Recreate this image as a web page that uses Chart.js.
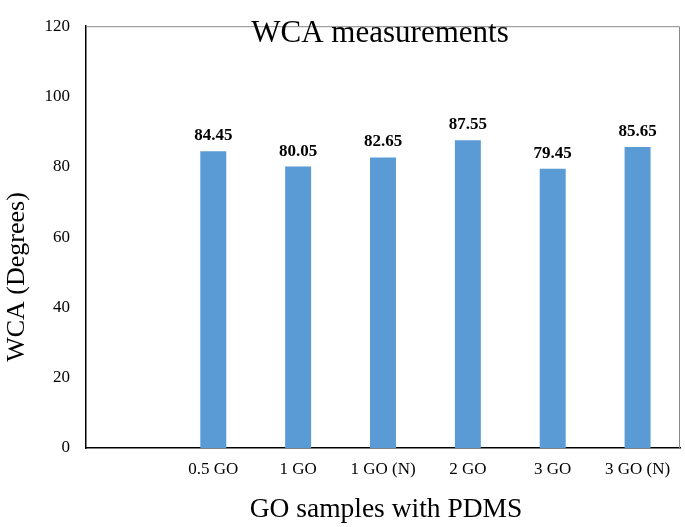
<!DOCTYPE html>
<html>
<head>
<meta charset="utf-8">
<script src="https://cdn.jsdelivr.net/npm/chart.js@4"></script>
<style>
html,body{margin:0;padding:0;background:#fff;}
#wrap{width:685px;height:527px;}
</style>
</head>
<body>
<div id="wrap"><canvas id="c" width="685" height="527"></canvas></div>
<script>
const categories = ["", "0.5 GO", "1 GO", "1 GO (N)", "2 GO", "3 GO", "3 GO (N)"];
const wcaValues = [null, 84.45, 80.05, 82.65, 87.55, 79.45, 85.65];
const yTicks = [0, 20, 40, 60, 80, 100, 120];
const chartTitle = "WCA measurements";
const xTitle = "GO samples with PDMS";
const yTitle = "WCA (Degrees)";

const SERIF = "'Liberation Serif', 'Times New Roman', serif";

const decor = {
  id: 'decor',
  beforeDatasetsDraw(chart) {
    const {ctx, chartArea: a} = chart;
    ctx.save();
    ctx.strokeStyle = '#8a8a8a';
    ctx.lineWidth = 1;
    ctx.beginPath();
    ctx.moveTo(a.left, a.top + 0.5);
    ctx.lineTo(a.right - 0.5, a.top + 0.5);
    ctx.lineTo(a.right - 0.5, a.bottom);
    ctx.stroke();
    ctx.restore();
  },
  afterDatasetsDraw(chart) {
    const {ctx, chartArea: a} = chart;
    ctx.save();
    const meta = chart.getDatasetMeta(0);
    ctx.font = "bold 17px " + SERIF;
    ctx.fillStyle = '#000';
    ctx.textAlign = 'center';
    ctx.textBaseline = 'alphabetic';
    meta.data.forEach((bar, i) => {
      const v = wcaValues[i];
      if (v == null) return;
      ctx.fillText(v.toFixed(2), bar.x, bar.y - 11);
    });
    ctx.font = "31px " + SERIF;
    ctx.fillText(chartTitle, 380, 42);
    ctx.font = "27.5px " + SERIF;
    ctx.fillText(xTitle, 386, 517);
    ctx.font = "26px " + SERIF;
    ctx.translate(24, 277);
    ctx.rotate(-Math.PI / 2);
    ctx.fillText(yTitle, 0, 0);
    ctx.restore();
  }
};

new Chart(document.getElementById('c'), {
  type: 'bar',
  data: {
    labels: categories,
    datasets: [{
      data: wcaValues,
      backgroundColor: '#5B9BD5',
      borderWidth: 0,
      categoryPercentage: 1,
      barPercentage: 0.306
    }]
  },
  options: {
    responsive: false,
    animation: false,
    devicePixelRatio: 1,
    layout: {padding: {top: 9, right: 5, left: 0, bottom: 0}},
    plugins: {legend: {display: false}, tooltip: {enabled: false}, title: {display: false}},
    scales: {
      x: {
        grid: {display: false, drawTicks: false},
        border: {display: true, color: '#000', width: 1.5},
        ticks: {color: '#000', font: {family: SERIF, size: 17}, padding: 11, maxRotation: 0, autoSkip: false},
        afterFit(s) { s.height = 79; }
      },
      y: {
        min: 0, max: 120,
        grid: {display: false, drawTicks: false},
        border: {display: true, color: '#000', width: 1.5},
        afterBuildTicks(s) { s.ticks = yTicks.map(v => ({value: v})); },
        ticks: {color: '#000', font: {family: SERIF, size: 17}, padding: 16},
        afterFit(s) { s.width = 86; }
      }
    }
  },
  plugins: [decor]
});
</script>
</body>
</html>
